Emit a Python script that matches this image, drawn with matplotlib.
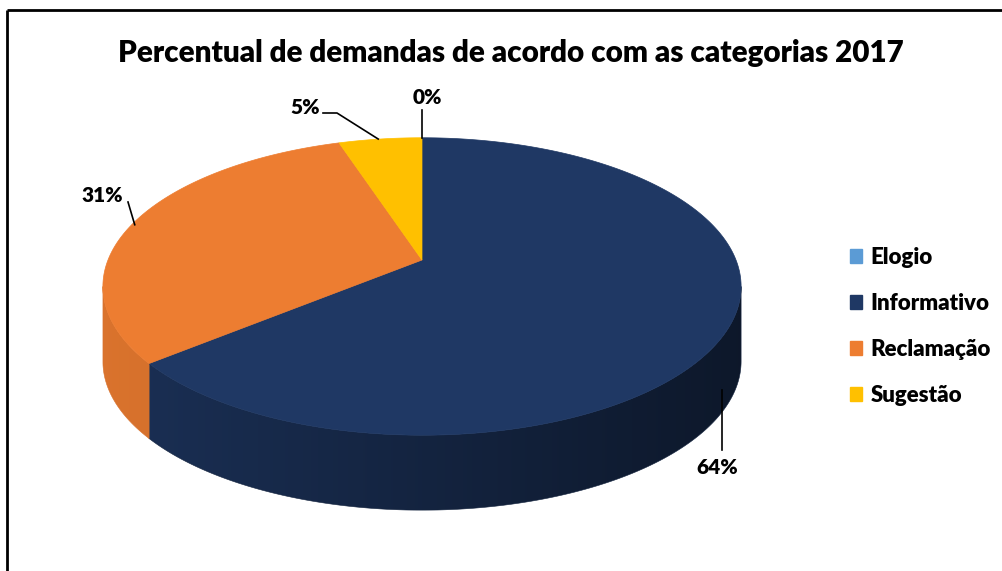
import numpy as np
import matplotlib
matplotlib.use("Agg")
import matplotlib.pyplot as plt
from matplotlib.patches import Polygon, Patch
from matplotlib.colors import to_rgb

# ---- data ----
categories = ["Elogio", "Informativo", "Reclamação", "Sugestão"]
values = [0, 64, 31, 5]
pct_labels = ["0%", "64%", "31%", "5%"]
colors = ["#5B9BD5", "#1F3864", "#ED7D31", "#FFC000"]
title = "Percentual de demandas de acordo com as categorias 2017"

# ---- layout (pixel space) ----
W, H = 1003, 571
CX, CY = 422, 260      # projected pie centre
A, B = 314, 144        # radii
K = 0.178              # perspective strength
D = 75                 # depth of the pie wall

FONT = "Lato"

fig = plt.figure(figsize=(W / 100, H / 100), dpi=100)
ax = fig.add_axes([0, 0, 1, 1])
ax.set_xlim(0, W)
ax.set_ylim(H, 0)
ax.axis("off")


def proj(theta_deg, r=1.0):
    """theta measured clockwise from 12 o'clock."""
    t = np.radians(90 - np.asarray(theta_deg, dtype=float))
    u = r * np.cos(t)
    v = -r * np.sin(t)
    den = 1 - K * v
    return CX + A * u / den, CY + B * v / den


total = float(sum(values))
fr = np.array(values, dtype=float) / total
starts = np.concatenate([[0], np.cumsum(fr)[:-1]]) * 360
ends = np.cumsum(fr) * 360

# visible wall range (silhouette limits)
sil = np.degrees(np.arcsin(K))
wall_lo, wall_hi = 90 + sil, 270 - sil

# walls: single polygon filled with a horizontal gradient
for s, e, c in zip(starts, ends, colors):
    lo, hi = max(s, wall_lo), min(e, wall_hi)
    if hi <= lo:
        continue
    th = np.linspace(lo, hi, 300)
    xs, ys = proj(th)
    pts = list(zip(xs, ys)) + list(zip(xs[::-1], ys[::-1] + D))
    poly = Polygon(pts, closed=True, facecolor="none", edgecolor="none")
    ax.add_patch(poly)
    x0, x1 = xs.min(), xs.max()
    y0, y1 = ys.min(), ys.max() + D
    pos = (np.linspace(x0, x1, 400) - (CX - A)) / (2 * A)
    if c == "#1F3864":
        f = 0.85 - 0.42 * pos
    else:
        f = 0.92 - 0.25 * pos
    rgb = np.array(to_rgb(c))
    grad = np.clip(f[None, :, None] * rgb[None, None, :], 0, 1)
    grad = np.repeat(grad, 2, axis=0)
    im = ax.imshow(grad, extent=(x0, x1, y1, y0), aspect="auto",
                   interpolation="bilinear", zorder=1)
    im.set_clip_path(poly)
    ax.add_patch(Polygon(pts, closed=True, facecolor="none",
                         edgecolor=tuple(rgb * f.mean()), linewidth=0.4, zorder=1))

# top faces
for s, e, c in zip(starts, ends, colors):
    if e - s <= 0:
        continue
    th = np.linspace(s, e, max(int((e - s) / 0.5), 2) + 1)
    xs, ys = proj(th)
    pts = [(CX, CY)] + list(zip(xs, ys))
    ax.add_patch(Polygon(pts, closed=True, facecolor=c, edgecolor=c,
                         linewidth=0.5, zorder=2))

# data labels with leader lines
mid = (starts + ends) / 2
lab_pos = {"0%": (427, 98), "5%": (305, 108), "31%": (102, 195), "64%": (717, 467)}
for lab, m in zip(pct_labels, mid):
    lx, ly = lab_pos[lab]
    ex, ey = proj(m)
    if lab == "0%":
        ax.plot([ex, ex], [ey, 110], color="black", lw=1.2, zorder=3)
    elif lab == "5%":
        ax.plot([323, 337, ex - 2], [113, 113, ey], color="black", lw=1.2, zorder=3)
    elif lab == "31%":
        ax.plot([128, ex], [202, ey + 3], color="black", lw=1.2, zorder=3)
    else:
        ax.plot([722, 722], [390, 450], color="black", lw=1.2, zorder=3)
    ax.text(lx, ly, lab, ha="center", va="center", fontsize=15,
            fontweight="heavy", family=FONT, color="black")

# title
ax.text(511, 53, title, ha="center", va="center", fontsize=21.3,
        fontweight="heavy", family=FONT, color="black")

# frame (top and left only visible)
ax.plot([7.5, W], [9.5, 9.5], color="black", lw=2, solid_capstyle="butt")
ax.plot([7.5, 7.5], [9.5, H], color="black", lw=2, solid_capstyle="butt")

# legend
handles = [Patch(facecolor=c, edgecolor=c) for c in colors]
leg = ax.legend(handles, categories, loc="upper left",
                bbox_to_anchor=(850 / W, 1 - 247 / H), frameon=False,
                handlelength=0.55, handleheight=0.55, handletextpad=0.38,
                labelspacing=1.12, borderaxespad=0, borderpad=0,
                prop={"family": FONT, "weight": "heavy", "size": 16})

fig.savefig("out.png", dpi=100)
